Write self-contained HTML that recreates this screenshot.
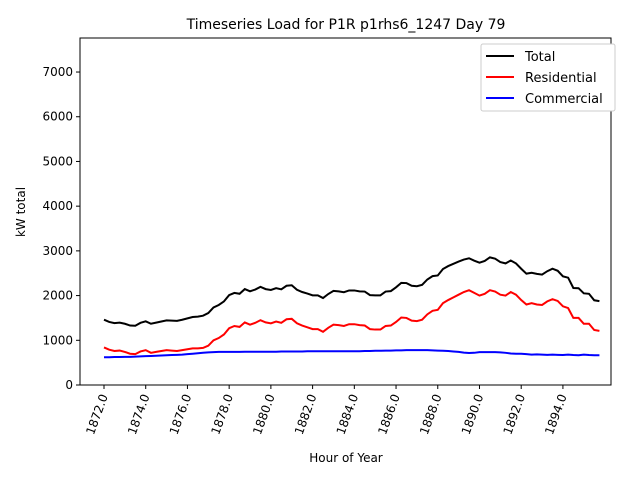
<!DOCTYPE html>
<html><head><meta charset="utf-8"><style>
body{margin:0;background:#fff;font-family:"DejaVu Sans","Liberation Sans",sans-serif}
</style></head><body>
<svg id="chart" width="640" height="480" xmlns="http://www.w3.org/2000/svg" font-family="DejaVu Sans, Liberation Sans, sans-serif">
<rect width="640" height="480" fill="#fff"/>
<text x="346" y="29" text-anchor="middle" font-size="14">Timeseries Load for P1R p1rhs6_1247  Day 79</text>
<text x="346" y="462" text-anchor="middle" font-size="12">Hour of Year</text>
<text transform="translate(25,212) rotate(-90)" text-anchor="middle" font-size="12">kW total</text>
<g id="grid"></g>
<g id="series"></g>
<rect x="80" y="38" width="531" height="347" fill="none" stroke="#000" stroke-width="1"/>
<g>
<rect x="481" y="44" width="134" height="67" fill="#fff" stroke="#ccc" rx="2"/>
<line x1="486" y1="56" x2="514" y2="56" stroke="#000" stroke-width="2"/>
<text x="525" y="61" font-size="13">Total</text>
<line x1="486" y1="77" x2="514" y2="77" stroke="red" stroke-width="2"/>
<text x="525" y="82" font-size="13">Residential</text>
<line x1="486" y1="98" x2="514" y2="98" stroke="blue" stroke-width="2"/>
<text x="525" y="103" font-size="13">Commercial</text>
</g>
</svg>
<script>
const startHour=1872, step=0.25;
const residential=[840,790,760,770,740,700,690,750,780,720,740,760,780,770,760,780,800,820,820,830,880,1000,1050,1130,1270,1320,1300,1400,1350,1390,1450,1400,1380,1420,1390,1470,1480,1380,1330,1290,1250,1250,1190,1280,1350,1340,1320,1360,1360,1340,1330,1250,1240,1240,1320,1330,1410,1510,1500,1440,1430,1460,1580,1660,1680,1830,1900,1960,2020,2080,2120,2060,2000,2040,2120,2090,2020,2000,2080,2020,1900,1800,1830,1800,1790,1870,1920,1880,1760,1720,1500,1500,1370,1370,1230,1210];
const commercial=[620,620,625,625,630,630,635,640,645,650,655,660,665,670,675,680,690,700,710,720,730,735,740,740,740,740,740,745,745,745,745,745,745,745,750,750,750,750,750,755,755,755,755,755,755,755,755,755,755,755,760,760,765,765,770,770,775,775,780,780,780,780,780,775,770,765,760,750,740,725,715,720,735,735,735,735,730,720,705,700,700,690,680,685,680,675,680,675,670,680,670,665,680,670,665,665];
const total=residential.map((v,i)=>v+commercial[i]);
const yTicks=[0,1000,2000,3000,4000,5000,6000,7000];
const xTicks=[1872,1874,1876,1878,1880,1882,1884,1886,1888,1890,1892,1894];
const NS="http://www.w3.org/2000/svg";
const xs=h=>104+(h-1872)*20.86;
const ys=v=>385-v*0.04471;
const g=document.getElementById('grid');
yTicks.forEach(t=>{
  const l=document.createElementNS(NS,'line');
  l.setAttribute('x1',76);l.setAttribute('x2',80);l.setAttribute('y1',ys(t));l.setAttribute('y2',ys(t));l.setAttribute('stroke','#000');
  
  
  g.appendChild(l);
  const tx=document.createElementNS(NS,'text');
  tx.setAttribute('x',73);tx.setAttribute('y',ys(t)+4);tx.setAttribute('text-anchor','end');tx.setAttribute('font-size','12');
  tx.textContent=t;
  
  
  g.appendChild(tx);
});
xTicks.forEach(t=>{
  const x=xs(t);
  const l=document.createElementNS(NS,'line');
  l.setAttribute('x1',x);l.setAttribute('x2',x);l.setAttribute('y1',385);l.setAttribute('y2',389);l.setAttribute('stroke','#000');
  
  
  g.appendChild(l);
  const tx=document.createElementNS(NS,'text');
  tx.setAttribute('transform',`translate(${x+4},396) rotate(-70)`);tx.setAttribute('text-anchor','end');tx.setAttribute('font-size','12');
  tx.textContent=t.toFixed(1);
  
  
  g.appendChild(tx);
});
const s=document.getElementById('series');
[[total,'#000','total-line'],[residential,'red','residential-line'],[commercial,'blue','commercial-line']].forEach(([d,c,n])=>{
  const p=document.createElementNS(NS,'polyline');
  p.setAttribute('points',d.map((v,i)=>xs(startHour+i*step)+','+ys(v)).join(' '));
  p.setAttribute('fill','none');p.setAttribute('stroke',c);p.setAttribute('stroke-width','2');
  
  
  s.appendChild(p);
});
</script>
</body></html>
